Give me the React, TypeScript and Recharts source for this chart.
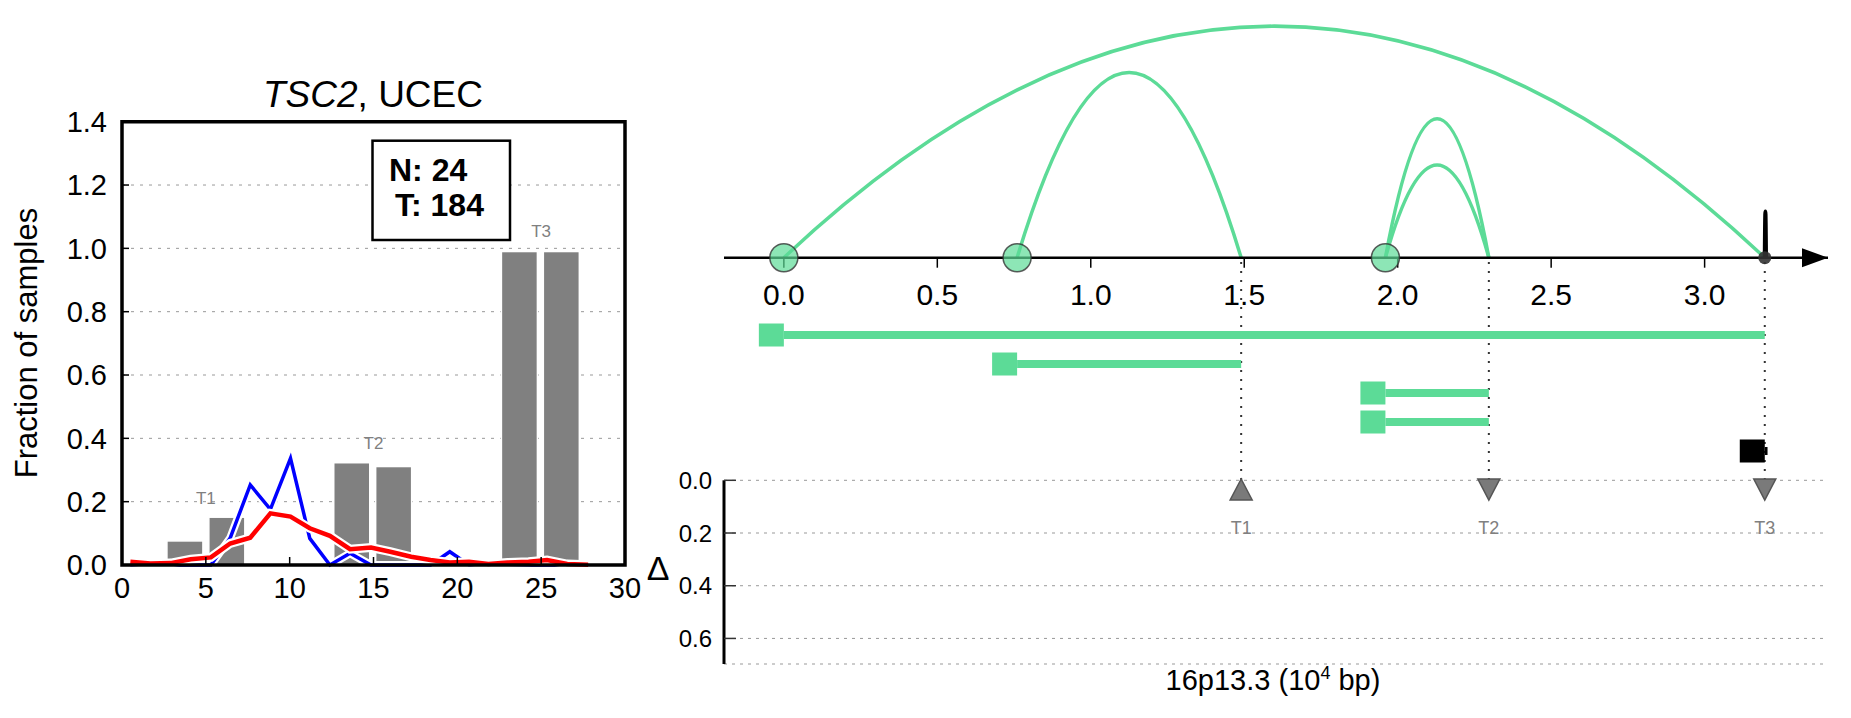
import React from "react";
import {
  ComposedChart,
  Bar,
  Line,
  Scatter,
  XAxis,
  YAxis,
  CartesianGrid,
  ReferenceArea,
  ReferenceLine,
  ReferenceDot,
} from "recharts";

const FONT = '"Liberation Sans", Arial, Helvetica, sans-serif';
const GREEN = "#5cdb97";

// ---- left panel: TSC2, UCEC
const binTicks = [0, 5, 10, 15, 20, 25, 30];
const fracTicks = [0, 0.2, 0.4, 0.6, 0.8, 1.0, 1.2, 1.4];
const barX = [3.75, 6.25, 13.7, 16.2, 23.7, 26.2];
const barY = [0.076, 0.151, 0.323, 0.311, 0.99, 0.99];
const tierX = [5, 15, 25];
const tierY = [0.21, 0.385, 1.053];
const tierNames = ["T1", "T2", "T3"];
const binX = [
  0.5, 1.7, 2.9, 4.1, 5.3, 6.45, 7.65, 8.85, 10.05, 11.2, 12.4, 13.6, 14.85, 16.0,
  17.25, 18.4, 19.55, 20.7, 21.85, 23.0, 24.25, 25.35, 26.55, 27.8,
];
const normalFrac = [
  0, 0, 0, 0, 0, 0.085, 0.253, 0.176, 0.337, 0.084, 0, 0.037, 0, 0, 0, 0, 0.042, 0, 0,
  0, 0, 0, 0, 0,
];
const tumourFrac = [
  0.01, 0.005, 0.006, 0.018, 0.024, 0.068, 0.086, 0.163, 0.153, 0.116, 0.092, 0.05,
  0.055, 0.042, 0.026, 0.016, 0.008, 0.01, 0.003, 0.008, 0.01, 0.016, 0.003, 0.001,
];

// ---- right panel: 16p13.3
const posTicks = [0, 0.5, 1.0, 1.5, 2.0, 2.5, 3.0];
const POS_MIN = -0.195;
const POS_MAX = 3.402;
const arcFrom = [0, 0.76, 1.96, 1.96, 3.196];
const arcTo = [3.196, 1.49, 2.297, 2.297, 3.2];
const arcLevel = [5, 4, 3, 2, 1];
const arcColor = [GREEN, GREEN, GREEN, GREEN, "#000"];
const anchorPos = [0, 0.76, 1.96];
const endPos = [3.196];
const segFrom = [0, 0.76, 1.96, 1.96, 3.196];
const segTo = [3.196, 1.49, 2.297, 2.297, 3.205];
const segRow = [1, 2, 3, 4, 5];
const segColor = [GREEN, GREEN, GREEN, GREEN, "#000"];
const bpPos = [1.49, 2.297, 3.196];
const bpDir = ["up", "down", "down"];
const bpNames = ["T1", "T2", "T3"];
const bpDelta = [0.035, 0.035, 0.035];
const bpLabelDelta = [0.182, 0.182, 0.182];
const deltaTicks = [0, 0.2, 0.4, 0.6];

const barRows = barX.map((x, i) => ({ x, y: barY[i] }));
const normalRows = binX.map((x, i) => ({ x, y: normalFrac[i] }));
const tumourRows = binX.map((x, i) => ({ x, y: tumourFrac[i] }));
const tierRows = tierX.map((x, i) => ({ x, y: tierY[i], t: tierNames[i] }));

// three points per arc: both feet and the apex
const arcRows = arcFrom.map((s, i) => [
  { x: s, y: 0 },
  { x: (s + arcTo[i]) / 2, y: arcLevel[i] },
  { x: arcTo[i], y: 0 },
]);

// quadratic curve through foot, apex, foot
const arcCurve = (ctx: any) => {
  let pts: number[][] = [];
  return {
    areaStart() {},
    areaEnd() {},
    lineStart() {
      pts = [];
    },
    point(x: number, y: number) {
      pts.push([+x, +y]);
    },
    lineEnd() {
      if (pts.length !== 3) return;
      const [a, m, b] = pts;
      const cx = 2 * m[0] - (a[0] + b[0]) / 2;
      const cy = 2 * m[1] - (a[1] + b[1]) / 2;
      ctx.moveTo(a[0], a[1]);
      ctx.quadraticCurveTo(cx, cy, b[0], b[1]);
    },
  };
};

const tierLabel = (size: number) => (p: any) => (
  <text x={p.cx} y={p.cy} textAnchor="middle" dominantBaseline="central" fontSize={size} fill="#808080">
    {p.payload.t}
  </text>
);

const BinBar = (p: any) => {
  const mid = p.x + p.width / 2;
  return <rect x={mid - 18} y={p.y} width={36} height={p.height} fill="#808080" stroke="#fff" strokeWidth={1.5} />;
};

function FractionPanel() {
  return (
    <ComposedChart width={660} height={718} data={barRows} margin={{ top: 121.7, right: 34, bottom: 103, left: 42 }}>
      <CartesianGrid vertical={false} stroke="#999" strokeDasharray="3 6" />
      <XAxis
        type="number"
        dataKey="x"
        domain={[0, 30]}
        ticks={binTicks}
        interval={0}
        height={50}
        axisLine={false}
        tickSize={-8}
        tickMargin={20}
        tickLine={{ stroke: "#000", strokeWidth: 1.5 }}
        tick={{ fontSize: 29, fill: "#000" }}
      />
      <XAxis xAxisId="bars" hide type="number" dataKey="x" domain={[0, 30]} />
      <YAxis
        dataKey="y"
        domain={[0, 1.4]}
        ticks={fracTicks}
        interval={0}
        width={80}
        axisLine={false}
        tickSize={-7}
        tickMargin={22}
        tickFormatter={(v: number) => v.toFixed(1)}
        tickLine={{ stroke: "#000", strokeWidth: 1.5 }}
        tick={{ fontSize: 29, fill: "#000" }}
      />
      <YAxis
        yAxisId="r"
        orientation="right"
        domain={[0, 1.4]}
        ticks={fracTicks}
        interval={0}
        width={1}
        axisLine={false}
        tickSize={-8}
        tickFormatter={() => ""}
        tickLine={{ stroke: "#000", strokeWidth: 1.5 }}
      />
      <Bar xAxisId="bars" dataKey="y" barSize={36} shape={BinBar} fill="#808080" isAnimationActive={false} />
      <Line data={normalRows} dataKey="y" type="linear" stroke="#fff" strokeWidth={8} dot={false} isAnimationActive={false} />
      <Line data={normalRows} dataKey="y" type="linear" stroke="#0000ff" strokeWidth={3.5} dot={false} isAnimationActive={false} />
      <Line data={tumourRows} dataKey="y" type="linear" stroke="#fff" strokeWidth={9} dot={false} isAnimationActive={false} />
      <Line data={tumourRows} dataKey="y" type="linear" stroke="#ff0000" strokeWidth={4.5} dot={false} isAnimationActive={false} />
      <Scatter data={tierRows} dataKey="y" shape={tierLabel(17)} isAnimationActive={false} />
      <ReferenceArea
        x1={0}
        x2={30}
        y1={0}
        y2={1.4}
        fill="none"
        fillOpacity={0}
        stroke="#000"
        strokeWidth={3.5}
        ifOverflow="visible"
        zIndex={1500}
      />
    </ComposedChart>
  );
}

function ArcPanel() {
  return (
    <ComposedChart width={1851} height={718} margin={{ top: 10, right: 23, bottom: 420.3, left: 724 }}>
      <XAxis
        type="number"
        dataKey="x"
        domain={[POS_MIN, POS_MAX]}
        ticks={posTicks}
        interval={0}
        height={40}
        tickSize={10}
        tickMargin={16}
        tickFormatter={(v: number) => v.toFixed(1)}
        axisLine={{ stroke: "#000", strokeWidth: 2.5 }}
        tickLine={{ stroke: "#000", strokeWidth: 1.5 }}
        tick={{ fontSize: 30, fill: "#000" }}
      />
      <YAxis hide dataKey="y" domain={[0, 5.35]} />
      {arcRows.map((rows, i) => (
        <Line
          key={i}
          data={rows}
          dataKey="y"
          type={arcCurve as any}
          stroke={arcColor[i]}
          strokeWidth={i === 4 ? 4 : 3.5}
          dot={false}
          isAnimationActive={false}
        />
      ))}
      <Scatter
        data={anchorPos.map((x) => ({ x, y: 0 }))}
        isAnimationActive={false}
        shape={(p: any) => (
          <circle cx={p.cx} cy={p.cy} r={14} fill={GREEN} fillOpacity={0.7} stroke="#333" strokeOpacity={0.8} strokeWidth={1.5} />
        )}
      />
      <Scatter
        data={endPos.map((x) => ({ x, y: 0 }))}
        isAnimationActive={false}
        shape={(p: any) => <circle cx={p.cx} cy={p.cy} r={6.5} fill="#333" fillOpacity={0.9} />}
      />
      <ReferenceDot
        x={POS_MAX}
        y={0}
        r={0}
        ifOverflow="visible"
        shape={(p: any) => (
          <polygon points={`${p.cx},${p.cy} ${p.cx - 26},${p.cy - 9.5} ${p.cx - 26},${p.cy + 9.5}`} fill="#000" />
        )}
      />
    </ComposedChart>
  );
}

function SegmentPanel() {
  return (
    <ComposedChart width={1851} height={718} margin={{ top: 257.7, right: 23, bottom: 238, left: 724 }}>
      <XAxis hide type="number" dataKey="x" domain={[POS_MIN, POS_MAX]} />
      <YAxis hide dataKey="y" reversed domain={[-1.666, 6.0]} />
      {bpPos.map((x) => (
        <ReferenceLine key={x} x={x} stroke="#333" strokeWidth={2} strokeDasharray="2 7" ifOverflow="visible" />
      ))}
      {segFrom.map((s, i) => (
        <Line
          key={i}
          data={[
            { x: s, y: segRow[i] },
            { x: segTo[i], y: segRow[i] },
          ]}
          dataKey="y"
          type="linear"
          stroke={segColor[i]}
          strokeWidth={8}
          dot={false}
          isAnimationActive={false}
        />
      ))}
      <Scatter
        data={segFrom.map((x, i) => ({ x, y: segRow[i], c: segColor[i] }))}
        isAnimationActive={false}
        shape={(p: any) => <rect x={p.cx - 25} y={p.cy - 11.5} width={25} height={23} fill={p.payload.c} />}
      />
    </ComposedChart>
  );
}

function DeltaPanel() {
  return (
    <ComposedChart width={1851} height={718} margin={{ top: 480.3, right: 23, bottom: 54, left: 664 }}>
      <CartesianGrid vertical={false} stroke="#999" strokeDasharray="3 5" />
      <XAxis hide type="number" dataKey="x" domain={[POS_MIN, POS_MAX]} />
      <YAxis
        dataKey="y"
        reversed
        domain={[0, 0.697]}
        ticks={deltaTicks}
        interval={0}
        width={60}
        tickSize={-12}
        tickMargin={24}
        tickFormatter={(v: number) => v.toFixed(1)}
        axisLine={{ stroke: "#000", strokeWidth: 3 }}
        tickLine={{ stroke: "#333", strokeWidth: 1.5 }}
        tick={{ fontSize: 24, fill: "#000" }}
      />
      <Scatter
        data={bpPos.map((x, i) => ({ x, y: bpDelta[i], d: bpDir[i] }))}
        isAnimationActive={false}
        shape={(p: any) => {
          const { cx, cy } = p;
          const pts =
            p.payload.d === "up"
              ? `${cx},${cy - 10.5} ${cx - 11},${cy + 10.5} ${cx + 11},${cy + 10.5}`
              : `${cx - 11},${cy - 10.5} ${cx + 11},${cy - 10.5} ${cx},${cy + 10.5}`;
          return <polygon points={pts} fill="#7a7a7a" stroke="#555" strokeWidth={1.5} />;
        }}
      />
      <Scatter
        data={bpPos.map((x, i) => ({ x, y: bpLabelDelta[i], t: bpNames[i] }))}
        isAnimationActive={false}
        shape={tierLabel(18)}
      />
    </ComposedChart>
  );
}

function Annotations() {
  return (
    <svg
      width={1851}
      height={718}
      style={{ position: "absolute", left: 0, top: 0, pointerEvents: "none" }}
      fontFamily={FONT}
    >
      <text x={373} y={107} textAnchor="middle" fontSize={37}>
        <tspan fontStyle="italic">TSC2</tspan>, UCEC
      </text>
      <text transform="translate(37,343) rotate(-90)" textAnchor="middle" fontSize={31}>
        Fraction of samples
      </text>
      <rect x={372.5} y={140.7} width={137.5} height={99.3} fill="#fff" stroke="#000" strokeWidth={2.5} />
      <text x={389} y={181} fontSize={32} fontWeight="bold">
        N: 24
      </text>
      <text x={395} y={215.7} fontSize={32} fontWeight="bold">
        T: 184
      </text>
      <text x={658} y={580} textAnchor="middle" fontSize={34}>
        Δ
      </text>
      <text x={1273} y={690} textAnchor="middle" fontSize={29}>
        16p13.3 (10
        <tspan dy={-11} fontSize={18}>
          4
        </tspan>
        <tspan dy={11}> bp)</tspan>
      </text>
    </svg>
  );
}

export default function App() {
  return (
    <div
      style={{
        position: "absolute",
        left: 0,
        top: 0,
        width: 1851,
        height: 718,
        background: "#fff",
        fontFamily: FONT,
      }}
    >
      <div style={{ position: "absolute", left: 0, top: 0 }}>
        <FractionPanel />
      </div>
      <div style={{ position: "absolute", left: 0, top: 0 }}>
        <ArcPanel />
      </div>
      <div style={{ position: "absolute", left: 0, top: 0 }}>
        <SegmentPanel />
      </div>
      <div style={{ position: "absolute", left: 0, top: 0 }}>
        <DeltaPanel />
      </div>
      <Annotations />
    </div>
  );
}
